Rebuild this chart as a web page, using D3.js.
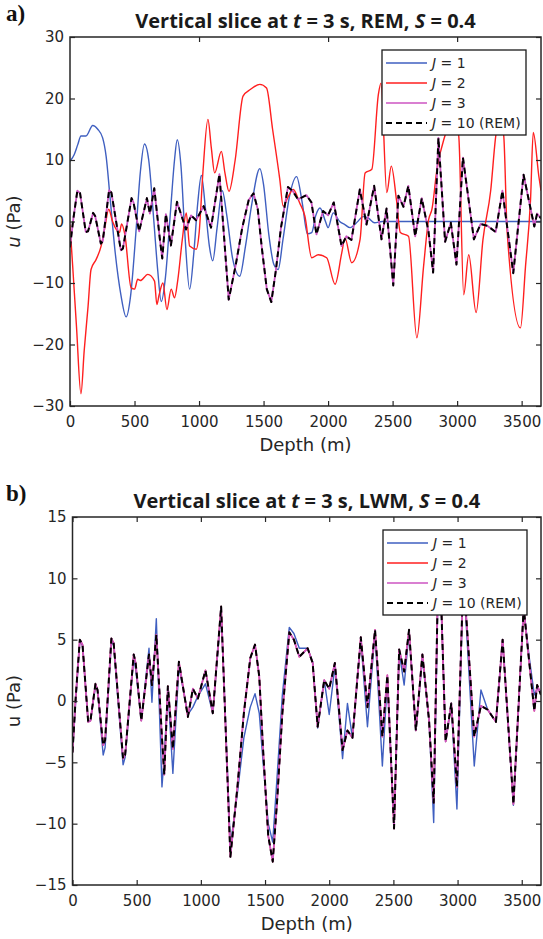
<!DOCTYPE html>
<html>
<head>
<meta charset="utf-8">
<script src="https://cdn.jsdelivr.net/npm/d3@7"></script>
<style>
  body { margin: 0; background: #fff; }
  svg { display: block; }
</style>
</head>
<body>
<script>
// Reference solution J = 10 (REM) (same curve in a and b)
const depthGrid = [0, 25, 57, 78, 122, 140, 179, 195, 239, 254, 303, 321, 394, 410, 477, 492, 536, 596, 619, 653,
  697, 715, 743, 782, 829, 899, 938, 977, 1036, 1093, 1158, 1230, 1285, 1335, 1385, 1422, 1455, 1485, 1525, 1560,
  1595, 1635, 1689, 1725, 1767, 1832, 1871, 1910, 1961, 2000, 2044, 2104, 2142, 2181, 2246, 2298, 2357, 2414, 2453, 2505,
  2545, 2584, 2622, 2675, 2726, 2778, 2814, 2855, 2907, 2951, 2995, 3045, 3130, 3182, 3234, 3299, 3351, 3435, 3515, 3559,
  3598, 3620, 3650];
const uRef = [-4.2, 0.3, 5.0, 4.6, -1.7, -1.6, 1.4, 0.9, -3.6, -3.2, 5.1, 4.7, -4.7, -4.4, 3.8, 3.1, -1.6, 3.8, 1.3, 5.4,
  -3.0, -6.0, 1.2, -3.9, 3.2, -1.3, 1.0, 0.2, 2.5, -1.0, 7.7, -12.7, -7.0, -1.0, 3.5, 4.6, 2.0, -4.0, -11.0, -13.1,
  -8.0, -1.0, 5.6, 5.0, 3.6, 4.3, 3.1, -2.1, 1.7, 1.0, 3.1, -4.0, -2.4, -3.0, 5.2, -0.5, 5.8, -2.9, 2.1, -10.4,
  4.2, 2.4, 5.8, -2.4, 3.8, -1.6, -8.3, 13.6, -3.3, -0.2, -7.0, 10.4, -2.9, -0.4, -0.7, -1.7, 5.0, -8.4, 7.6, 3.1,
  -0.8, 1.3, 0.5];

// LWM, J = 1 (panel b), same depth grid
const uLwmJ1 = [-4.2, 0.0, 4.9, 4.5, -1.7, -1.6, 1.2, 0.9, -4.4, -3.8, 4.9, 4.5, -5.2, -4.6, 3.5, 2.6, -1.6, 4.3, -0.1, 6.7,
  -7.0, -4.5, 1.0, -5.9, 2.8, -1.1, -0.5, 0.4, 1.4, -1.0, 7.3, -11.8, -7.5, -3.0, -0.5, 0.6, -1.0, -5.0, -10.0, -11.5,
  -6.0, 0.5, 6.0, 5.5, 4.3, 4.3, 3.2, -2.2, 1.7, -1.1, 2.8, -4.7, -0.2, -3.0, 5.0, -2.1, 5.6, -5.3, 1.7, -10.0,
  4.0, 1.3, 5.6, -2.4, 3.5, -1.6, -9.9, 13.6, -3.3, -0.2, -8.8, 10.4, -5.3, 0.9, -0.7, -1.7, 5.0, -8.5, 7.6, 3.5,
  0.5, 1.0, 0.8];
// LWM J = 2, J = 3 and REM J = 3 sit on top of uRef at this scale

// REM, J = 1 (panel a)
const depthRemJ1 = [0, 33, 60, 85, 124, 176, 215, 253, 280, 310, 350, 395, 435, 470, 510, 545, 577, 610, 650, 680,
  707, 740, 780, 810, 831, 860, 890, 927, 960, 990, 1018, 1050, 1080, 1106, 1140, 1180, 1215, 1260, 1315, 1360,
  1410, 1471, 1500, 1540, 1580, 1613, 1650, 1700, 1756, 1800, 1840, 1873, 1905, 1937, 1980, 2000, 2040, 2090, 2130, 2170,
  2230, 2270, 2310, 2360, 2420, 3650];
const uRemJ1 = [9.8, 10.9, 12.5, 13.9, 13.9, 15.6, 15.0, 13.6, 10.6, 4.0, -5.0, -12.0, -15.5, -12.0, -2.0, 8.0, 12.6, 10.0, 0.0, -8.0,
  -13.0, -9.0, 2.0, 10.0, 13.3, 9.0, -2.0, -11.0, -5.0, 3.0, 7.5, 2.0, -4.0, -6.4, -1.0, 5.0, 1.0, -6.0, -8.9, -4.0,
  3.0, 8.6, 6.0, -2.0, -7.0, -7.8, -3.0, 4.0, 7.3, 3.0, -2.0, -1.8, 1.0, 2.2, 0.0, -1.0, 1.4, 0.0, -0.5, -1.0,
  0.0, 0.8, 0.6, -0.2, 0.0, 0.0];

// REM, J = 2 (panel a)
const depthRemJ2 = [0, 20, 50, 85, 110, 140, 163, 202, 241, 270, 300, 330, 383, 400, 425, 474, 500, 525, 545, 603,
  655, 673, 690, 720, 751, 784, 810, 836, 870, 901, 927, 979, 1000, 1030, 1069, 1095, 1121, 1173, 1200, 1232,
  1280, 1341, 1400, 1471, 1523, 1570, 1626, 1652, 1690, 1730, 1780, 1820, 1873, 1924, 1989, 2054, 2106, 2131, 2183, 2248,
  2287, 2339, 2390, 2410, 2455, 2490, 2530, 2560, 2623, 2688, 2740, 2779, 2805, 2844, 2908, 2960, 3012, 3051, 3090, 3147,
  3200, 3260, 3300, 3330, 3361, 3388, 3491, 3530, 3569, 3590, 3633, 3650];
const uRemJ2 = [-0.5, -7, -17, -28, -21, -13.8, -7.8, -6.2, -4, -1, 2, 0, -1.8, -0.4, -2.1, -10.8, -11, -9.4, -9.6, -8.6,
  -9.7, -13.5, -12, -10, -14.3, -11, -12.4, -9.4, -3, 1.4, -4, -4.5, -2, 8, 16.6, 12, 7.9, 11.4, 8, 4.9,
  10, 20.4, 21.5, 22.3, 21.7, 15, 6.8, 2.5, 4, 5.2, 3, 0.9, -5.9, -5.4, -5.9, -10.2, -5.1, -2.7, -6.7, -2.9,
  7.9, 8.5, 20.7, 22.5, 4.7, 9, 3.5, -1.8, -2.4, -18.9, -7.3, 0.3, 2, 8.5, 14.1, 17, 14, -11.9, -5.4, -14.8,
  -3, 5, 14, 17, 14, -1.8, -17.3, -7.3, 3.6, 14.5, 7.4, 5];

const xTicks = [0, 500, 1000, 1500, 2000, 2500, 3000, 3500];
const yTicksA = [-30, -20, -10, 0, 10, 20, 30];
const yTicksB = [-15, -10, -5, 0, 5, 10, 15];
const legendLabels = ["1", "2", "3", "10 (REM)"];

const BLUE = "#3f5fc0", RED = "#ff1f1f", MAGENTA = "#cc55c2", AXIS = "#262626";

const svg = d3.select("body").append("svg").attr("width", 543).attr("height", 939);

const panels = [
    {
        tag: "a)", method: "REM", uItalic: true,
        left: 70, right: 541, top: 37, bottom: 406,
        yDomain: [-30, 30], yTicks: yTicksA, topTicks: [1000, 2000, 3000],
        legend: { x: 382, y: 50 },
        lines: [
            { d: depthRemJ1, u: uRemJ1, color: BLUE, width: 1.4, smooth: true },
            { d: depthRemJ2, u: uRemJ2, color: RED, width: 1.4, smooth: true },
            { d: depthGrid, u: uRef, color: MAGENTA, width: 1.8 },
            { d: depthGrid, u: uRef, color: "#000", width: 2, dash: "6,4" }
        ]
    },
    {
        tag: "b)", method: "LWM", uItalic: false,
        left: 72.5, right: 541, top: 517, bottom: 885,
        yDomain: [-15, 15], yTicks: yTicksB, topTicks: xTicks,
        legend: { x: 383, y: 530 },
        lines: [
            { d: depthGrid, u: uLwmJ1, color: BLUE, width: 1.4 },
            { d: depthGrid, u: uRef, color: RED, width: 1.4 },
            { d: depthGrid, u: uRef, color: MAGENTA, width: 1.8 },
            { d: depthGrid, u: uRef, color: "#000", width: 2, dash: "6,4" }
        ]
    }
];

panels.forEach((p, i) => drawPanel(p, i));

function drawPanel(p, i) {
    const x = d3.scaleLinear().domain([0, 3650]).range([p.left, p.right]);
    const y = d3.scaleLinear().domain(p.yDomain).range([p.bottom, p.top]);
    const g = svg.append("g");

    // panel tag and title
    g.append("text")
        .attr("x", 6).attr("y", p.top - 16)
        .attr("font-family", "Liberation Serif").attr("font-weight", "bold")
        .attr("font-size", 23).attr("fill", "#111")
        .text(p.tag);

    const title = g.append("text")
        .attr("x", (p.left + p.right) / 2).attr("y", p.top - 9)
        .attr("text-anchor", "middle")
        .attr("font-family", "Open Sans").attr("font-weight", "bold")
        .attr("font-size", 20).attr("fill", "#1a1a1a");
    title.append("tspan").text("Vertical slice at ");
    title.append("tspan").attr("font-style", "italic").text("t");
    title.append("tspan").text(` = 3 s, ${p.method}, `);
    title.append("tspan").attr("font-style", "italic").text("S");
    title.append("tspan").text(" = 0.4");

    // curves
    const clipId = "clip" + i;
    g.append("clipPath").attr("id", clipId)
        .append("rect")
        .attr("x", p.left).attr("y", p.top)
        .attr("width", p.right - p.left).attr("height", p.bottom - p.top);

    p.lines.forEach(s => {
        const line = d3.line()
            .x(d => x(d[0])).y(d => y(d[1]))
            .curve(s.smooth ? d3.curveMonotoneX : d3.curveLinear);
        g.append("path")
            .datum(s.d.map((dd, k) => [dd, s.u[k]]))
            .attr("clip-path", `url(#${clipId})`)
            .attr("d", line)
            .attr("fill", "none")
            .attr("stroke", s.color)
            .attr("stroke-width", s.width)
            .attr("stroke-dasharray", s.dash || null)
            .attr("stroke-linejoin", "round");
    });

    // axes, ticks pointing inward
    const styleAxis = sel => {
        sel.select(".domain").remove();
        sel.selectAll(".tick line").attr("stroke", AXIS).attr("stroke-width", 1.2);
        sel.selectAll(".tick text").attr("fill", AXIS)
            .attr("font-family", "DejaVu Sans").attr("font-size", 15);
    };
    g.append("g").attr("transform", `translate(0,${p.bottom})`)
        .call(d3.axisBottom(x).tickValues(xTicks).tickFormat(d3.format("d")).tickSize(-5).tickPadding(10))
        .call(styleAxis);
    g.append("g").attr("transform", `translate(0,${p.top})`)
        .call(d3.axisTop(x).tickValues(p.topTicks).tickFormat("").tickSize(-5))
        .call(styleAxis);
    g.append("g").attr("transform", `translate(${p.left},0)`)
        .call(d3.axisLeft(y).tickValues(p.yTicks).tickSize(-5).tickPadding(6))
        .call(styleAxis);
    g.append("g").attr("transform", `translate(${p.right},0)`)
        .call(d3.axisRight(y).tickValues(p.yTicks).tickFormat("").tickSize(-5))
        .call(styleAxis);

    g.append("rect")
        .attr("x", p.left).attr("y", p.top)
        .attr("width", p.right - p.left).attr("height", p.bottom - p.top)
        .attr("fill", "none").attr("stroke", AXIS).attr("stroke-width", 1.5);

    // axis labels
    g.append("text")
        .attr("x", (p.left + p.right) / 2).attr("y", p.bottom + 45)
        .attr("text-anchor", "middle")
        .attr("font-family", "DejaVu Sans").attr("font-size", 18).attr("fill", AXIS)
        .text("Depth (m)");

    const yl = g.append("text")
        .attr("transform", `translate(20,${(p.top + p.bottom) / 2}) rotate(-90)`)
        .attr("text-anchor", "middle")
        .attr("font-family", "DejaVu Sans").attr("font-size", 18).attr("fill", AXIS);
    yl.append("tspan").attr("font-style", p.uItalic ? "italic" : "normal").text("u");
    yl.append("tspan").text(" (Pa)");

    // legend
    const lg = g.append("g").attr("transform", `translate(${p.legend.x},${p.legend.y})`);
    lg.append("rect").attr("width", 144).attr("height", 85)
        .attr("fill", "#fff").attr("stroke", "#1a1a1a").attr("stroke-width", 1.3);
    p.lines.forEach((s, k) => {
        const ly = 13 + k * 20;
        lg.append("line")
            .attr("x1", 4).attr("x2", 45).attr("y1", ly).attr("y2", ly)
            .attr("stroke", s.color).attr("stroke-width", s.dash ? 2 : 1.6)
            .attr("stroke-dasharray", s.dash || null);
        const t = lg.append("text")
            .attr("x", 50).attr("y", ly).attr("dy", "0.36em")
            .attr("font-family", "DejaVu Sans").attr("font-size", 14).attr("fill", AXIS);
        t.append("tspan").attr("font-style", "italic").text("J");
        t.append("tspan").text(" = " + legendLabels[k]);
    });
}
</script>
</body>
</html>
